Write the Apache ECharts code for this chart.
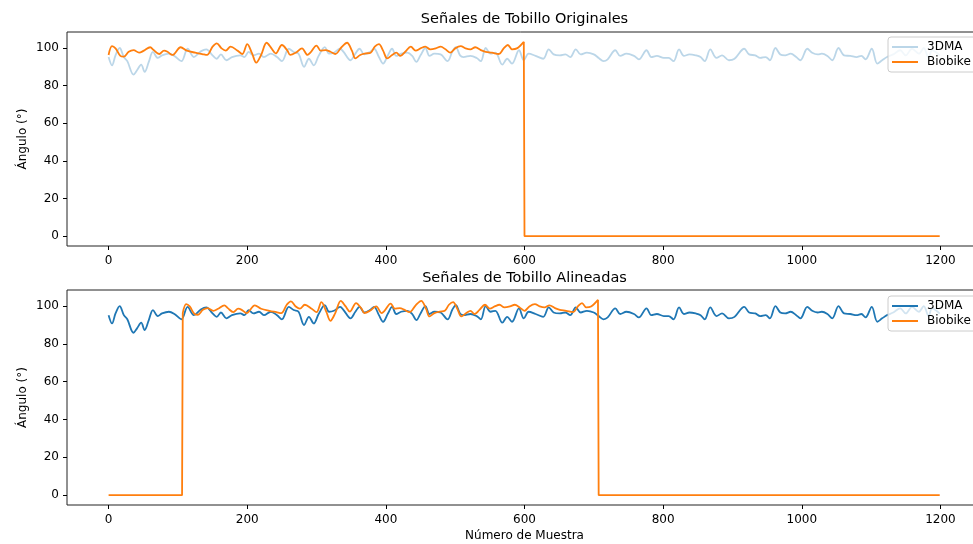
<!DOCTYPE html>
<html>
<head>
<meta charset="utf-8">
<script src="https://cdn.jsdelivr.net/npm/echarts@6/dist/echarts.min.js"></script>
<style>html,body{margin:0;padding:0;background:#fff;}#c{width:973px;height:544px;}</style>
</head>
<body>
<div id="c"></div>
<script>
// ---- data ----
const dmaX = [0,5,10,16,22,27,36,41,47,52,58,64,71,77,87,95,105,114,123,133,141,150,156,162,170,178,190,196,202,209,217,224,234,243,250,260,267,274,282,289,296,303,
312,318,325,334,339,349,356,362,369,377,383,390,396,403,409,415,422,431,438,444,450,457,463,470,479,489,496,501,507,512,522,531,537,544,551,558,568,575,582,592,599,606,
616,627,635,642,651,659,666,674,681,690,700,707,714,720,731,738,747,758,765,776,783,791,801,808,815,823,830,838,847,854,860,868,877,885,895,
903,917,924,933,940,948,954,962,969,976,984,992,998,1008,1015,1023,1029,1037,1044,1053,1061,1070,1079,1086,1092,1101,1109,1116,1123,1132,1142,1150,1159,1169,1176,1183,1188,1199];
const dmaY = [95.2,90.8,96.1,100,95.2,93,85.9,88.2,91.2,87.3,92.6,97.9,94.7,96.1,97,95.8,93,99.6,95.2,98.2,99.3,96.1,94.3,96.6,93.5,95.2,96.1,95.2,97.9,96.1,97,95.2,97,95.2,93,99.6,97.9,97,90,94.3,90.8,95.8,
100.5,97,97.5,99.6,97.9,93.5,97,99.6,96.6,97.9,99.6,95.2,91.7,96.1,99.6,95.8,97,97.5,95.8,92.6,96.1,100,95.8,97,96.6,93,98.2,100.5,96.1,95.2,95.8,94.7,93,100,97,97.5,91.2,94.3,91.7,98.8,93.5,97,
95.8,94.3,99.3,96.6,96.1,96.6,95.2,99.3,96.6,97.5,96.6,94.7,93,94,98.8,95.8,97,95.8,94,98.8,95.2,95.8,94.7,94.7,93,99.3,95.8,96.6,96.1,95.2,93,99.3,94.7,96.1,93.5,
94.3,99.6,96.6,96.1,94.7,95.2,93.5,100,96.6,96.1,97,95.2,93.5,99.6,97.5,96.6,97,95.8,93.5,100,96.1,95.8,95.2,95.8,94,99.6,91.7,93.5,95.2,96.6,98.8,96.1,99.6,97,100,94.7,98.8,96];

const bioX = [0,5,10,17,22,29,36,44,51,60,65,73,80,85,92,104,113,125,135,142,150,156,163,169,176,186,193,200,207,213,220,228,235,241,250,258,262,270,279,287,291,300,306,
313,320,327,336,344,351,356,363,371,378,384,390,396,402,409,415,421,428,436,443,450,457,464,472,479,486,493,500,508,515,522,529,537,544,553,563,570,576,582,589,599];
const bioY = [96.3,101,99.8,95.8,95.4,98,98.9,97.5,98.6,100.4,98.9,96.8,98.6,98,96.3,100.4,98.6,97.5,96.8,96.3,100.7,102.5,99.8,98.6,100.7,98.6,96.8,102.1,97.1,92.2,96.3,102.8,99.8,97.1,101.6,98.6,96.3,97.5,99.8,96.3,97.5,101.3,98.6,
98.9,98,96.8,100.4,102.8,98.6,94.5,96.3,97.1,97.5,100.7,102.1,98.6,94.5,96.3,97.5,95.8,98,100.7,98.6,99.8,100.7,99.3,99.8,100.7,99.3,97.5,99.8,101,99.8,99.3,100.4,98.9,98,97.5,96.8,99.8,101.6,99.3,99.8,103.3];

const bioShift = 107;      // alignment offset (samples)
const bioLength = 600;     // samples recorded by Biobike
const lastSample = 1199;
const padValue = 0;

const xTicks = [0,200,400,600,800,1000,1200];
const yTicks = [0,20,40,60,80,100];

const titles = ['Señales de Tobillo Originales', 'Señales de Tobillo Alineadas'];
const yName = 'Ángulo (°)';
const xName = 'Número de Muestra';

// ---- build series data ----
const zip = (xs, ys, off) => xs.map((x, i) => [x + (off || 0), ys[i]]);
const dma = zip(dmaX, dmaY);
const bioTop = zip(bioX, bioY);
const bioLast = bioY[bioY.length - 1];
const bioTopPad = [[bioX[bioX.length - 1], bioLast], [bioLength, padValue], [lastSample, padValue]];
const bioBot = zip(bioX, bioY, bioShift);
const bioBotPre = [[0, padValue], [bioShift - 1, padValue], [bioShift, bioY[0]]];
const bioBotPost = [[bioShift + bioX[bioX.length - 1], bioLast], [bioShift + bioLength, padValue], [lastSample, padValue]];

const FONT = 'DejaVu Sans';
const BLUE = '#1f77b4', LBLUE = 'rgba(31,119,180,0.3)', ORANGE = '#ff7f0e';
const LW = 1.8;
const plain = v => String(v);

function xAxis(gi, withName) {
  return {
    type: 'value', gridIndex: gi, min: -60, max: 1260,
    axisLine: { show: false, onZero: false },
    axisTick: { show: true, inside: false, length: 4, lineStyle: { color: '#000', width: 1 }, customValues: xTicks },
    axisLabel: { color: '#000', fontFamily: FONT, fontSize: 12, margin: 9, customValues: xTicks, formatter: plain },
    splitLine: { show: false },
    name: withName ? xName : '', nameLocation: 'middle', nameGap: 25, nameMoveOverlap: false,
    nameTextStyle: { color: '#000', fontFamily: FONT, fontSize: 12 }
  };
}
function yAxis(gi) {
  return {
    type: 'value', gridIndex: gi, min: -5.2, max: 108.5,
    axisLine: { show: false, onZero: false },
    axisTick: { show: true, inside: false, length: 4, lineStyle: { color: '#000', width: 1 }, customValues: yTicks },
    axisLabel: { color: '#000', fontFamily: FONT, fontSize: 12, margin: 8, customValues: yTicks, formatter: plain },
    splitLine: { show: false },
    name: yName, nameLocation: 'middle', nameGap: 38, nameRotate: 90, nameMoveOverlap: false,
    nameTextStyle: { color: '#000', fontFamily: FONT, fontSize: 12 }
  };
}
function line(name, data, color, xi, smooth) {
  return {
    type: 'line', name, data, xAxisIndex: xi, yAxisIndex: xi,
    showSymbol: false, symbol: 'none', smooth: smooth ? 0.35 : false,
    lineStyle: { color, width: LW }, itemStyle: { color },
    emphasis: { disabled: true }, animation: false
  };
}
function legend(top, dmaColor) {
  return {
    left: 888, top, orient: 'vertical', icon: 'rect', itemWidth: 26, itemHeight: 2, itemGap: 3,
    padding: [4, 6, 4, 4], backgroundColor: 'rgba(255,255,255,0.8)', borderColor: '#cccccc',
    borderWidth: 1, borderRadius: 3,
    textStyle: { color: '#000', fontFamily: FONT, fontSize: 12, padding: [0, 0, 0, 4] },
    data: [{ name: '3DMA', itemStyle: { color: dmaColor } }, { name: 'Biobike', itemStyle: { color: ORANGE } }],
    selectedMode: false
  };
}

const chart = echarts.init(document.getElementById('c'), null, { renderer: 'canvas' });
chart.setOption({
  backgroundColor: '#fff',
  animation: false,
  title: [
    { text: titles[0], left: 524.5, top: 12, textAlign: 'center', padding: 0,
      textStyle: { fontFamily: FONT, fontSize: 14.5, fontWeight: 'normal', color: '#000' } },
    { text: titles[1], left: 524.5, top: 271, textAlign: 'center', padding: 0,
      textStyle: { fontFamily: FONT, fontSize: 14.5, fontWeight: 'normal', color: '#000' } }
  ],
  grid: [
    { left: 67, top: 32, width: 915, height: 214, outerBoundsMode: 'none', containLabel: false,
      show: true, borderColor: '#222', borderWidth: 1, backgroundColor: 'transparent' },
    { left: 67, top: 290, width: 915, height: 215, outerBoundsMode: 'none', containLabel: false,
      show: true, borderColor: '#222', borderWidth: 1, backgroundColor: 'transparent' }
  ],
  xAxis: [xAxis(0, false), xAxis(1, true)],
  yAxis: [yAxis(0), yAxis(1)],
  legend: [legend(37, LBLUE), legend(296, BLUE)],
  series: [
    line('3DMA', dma, LBLUE, 0, true),
    line('Biobike', bioTop, ORANGE, 0, true),
    line('Biobike', bioTopPad, ORANGE, 0, false),
    line('3DMA', dma, BLUE, 1, true),
    line('Biobike', bioBotPre, ORANGE, 1, false),
    line('Biobike', bioBot, ORANGE, 1, true),
    line('Biobike', bioBotPost, ORANGE, 1, false)
  ]
});
</script>
</body>
</html>
